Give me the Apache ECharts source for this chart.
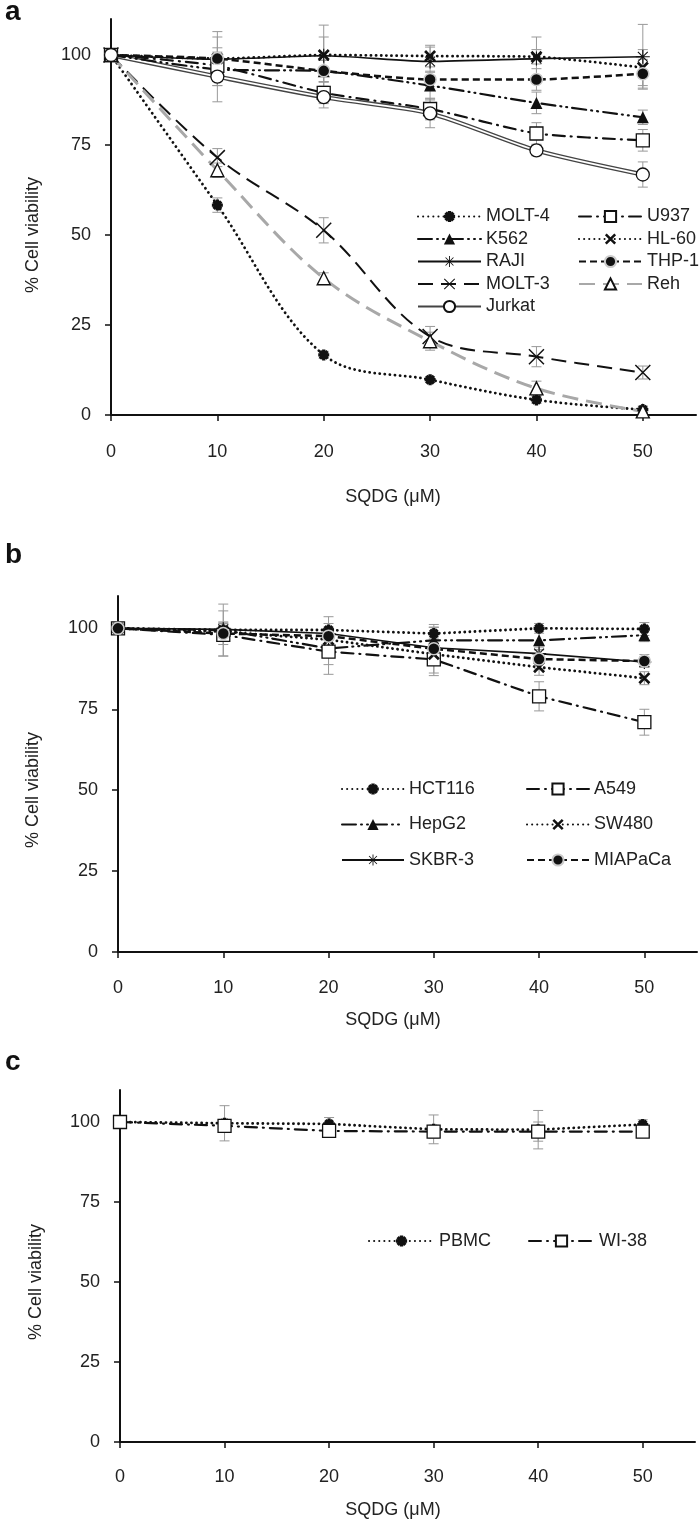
<!DOCTYPE html>
<html><head><meta charset="utf-8">
<script src="https://cdn.jsdelivr.net/npm/echarts@6/dist/echarts.min.js"></script>
<style>html,body{margin:0;padding:0;background:#fff}#c{width:700px;height:1521px}</style>
</head><body><div id="c"></div>
<script>
// ---------- data ----------
const doses = [0, 10, 20, 30, 40, 50];
const xTicks = [0, 10, 20, 30, 40, 50];
const yTicks = [0, 25, 50, 75, 100];

// panel a
const molt4 = [100, 58.3, 16.7, 9.8, 4.2, 1.5];
const molt4Err = [0, 2, 1, 0.8, 1, 1];
const k562 = [100, 96, 95.5, 91.5, 86.7, 82.7];
const k562Err = [0, 9, 3, 4, 3, 2];
const raji = [100, 98.8, 99.8, 98.2, 99, 99.5];
const rajiErr = [0, 2, 8.5, 4, 6, 9];
const molt3 = [100, 71.5, 51.3, 21.8, 16.2, 11.8];
const molt3Err = [0, 2.5, 3.5, 2.8, 2.8, 1.8];
const jurkat = [100, 94, 88.3, 83.8, 73.5, 66.8];
const jurkatErr = [0, 2.5, 3, 4, 1.5, 3.5];
const u937 = [100, 97, 89.5, 85, 78.2, 76.3];
const u937Err = [0, 3, 3, 3, 3, 3];
const hl60 = [100, 99, 100, 99.7, 99.5, 96.5];
const hl60Err = [0, 7.5, 5, 3, 2, 5];
const thp1 = [100, 99, 95.6, 93.2, 93.2, 94.8];
const thp1Err = [0, 3, 3, 2, 3, 4];
const reh = [100, 68, 38, 20.5, 7.4, 1];
const rehErr = [0, 2, 1.5, 2.5, 2, 1];

// panel b
const hct116 = [100, 99.5, 99.5, 98.4, 100, 99.8];
const hct116Err = [0, 2, 2, 2, 1.5, 2];
const a549 = [100, 98, 92.8, 90.4, 79, 71];
const a549Err = [0, 3, 7, 5, 4.5, 4];
const hepg2 = [100, 99.5, 93.8, 96.3, 96.3, 97.9];
const hepg2Err = [0, 8, 5, 4, 3, 2];
const sw480 = [100, 99, 96.5, 92, 88, 84.6];
const sw480Err = [0, 3, 3, 3, 2.5, 2];
const skbr3 = [100, 99.7, 98.4, 94, 92.2, 89.6];
const skbr3Err = [0, 2, 2, 3, 2, 1.5];
const miapaca = [100, 98.4, 97.6, 93.7, 90.5, 89.9];
const miapacaErr = [0, 7, 6, 7.5, 3, 2];

// panel c
const pbmc = [100, 99.6, 99.4, 97.7, 97.6, 99.2];
const pbmcErr = [0, 5.5, 2, 4.5, 6, 1.5];
const wi38 = [100, 98.8, 97.2, 97, 97, 97];
const wi38Err = [0, 2, 1.5, 2, 3, 1];

// ---------- styles ----------
const FONT = '"Liberation Sans", Arial, Helvetica, sans-serif';
const TXT = '#222';
const STAR_BOLD = 'path://M7,0H13V20H7Z M0,7H20V13H0Z M1,5.2L5.2,1L19,14.8L14.8,19Z M14.8,1L19,5.2L5.2,19L1,14.8Z';
const STAR_THIN = 'path://M9.2,0H10.8V20H9.2Z M0,9.2H20V10.8H0Z M2.4,3.5L3.5,2.4L17.6,16.5L16.5,17.6Z M16.5,2.4L17.6,3.5L3.5,17.6L2.4,16.5Z';
const X_BOLD = 'path://M0,3.2L3.2,0L20,16.8L16.8,20Z M16.8,0L20,3.2L3.2,20L0,16.8Z';
const X_THIN = 'path://M0,1.3L1.3,0L20,18.7L18.7,20Z M18.7,0L20,1.3L1.3,20L0,18.7Z';

const DOT = [0.1, 5];
const sty = {
  dotStar:  {line:{type:DOT, width:2.8, cap:'round', color:'#111'}, sym:STAR_BOLD, size:11, item:{color:'#111'}},
  k562:     {line:{type:[14,5,1,5,1,5], width:2.2, cap:'round', color:'#111'}, sym:'triangle', size:12, item:{color:'#111'}},
  solid:    {line:{type:'solid', width:1.6, color:'#111'}, sym:STAR_THIN, size:14, item:{color:'#111'}},
  molt3:    {line:{type:[15,8], width:2, color:'#111'}, sym:X_THIN, size:16, item:{color:'#111'}},
  u937:     {line:{type:[12,6,1,6], width:2.2, cap:'round', color:'#111'}, sym:'rect', size:13, item:{color:'#fff', borderColor:'#111', borderWidth:1.3}},
  dotX:     {line:{type:DOT, width:2.8, cap:'round', color:'#111'}, sym:X_BOLD, size:12, item:{color:'#111'}},
  dashed:   {line:{type:[7,4], width:2.5, color:'#111'}, sym:'circle', size:12, item:{color:'#111', borderColor:'#ccc', borderWidth:1.5}},
  reh:      {line:{type:[16,8], width:3, color:'#a8a8a8'}, sym:'triangle', size:13, item:{color:'#fff', borderColor:'#111', borderWidth:1.4}},
};

const grids = [
  {left:111, top:19, width:585, height:396},
  {left:118, top:596, width:579, height:356},
  {left:120, top:1090, width:575, height:352},
];

function pts(vals){ return doses.map((x,i)=>[x, vals[i]]); }
function errPts(vals, err){ return doses.map((x,i)=>[x, vals[i]-err[i], vals[i]+err[i]]).filter((d,i)=>err[i]>0); }

const series = [];
function addLine(name, vals, err, s, gi, smooth){
  series.push({
    type:'line', name, xAxisIndex:gi, yAxisIndex:gi, data:pts(vals), smooth:smooth||false,
    symbol:s.sym, symbolSize:s.size, showAllSymbol:true, lineStyle:s.line, itemStyle:s.item,
    z:3, animation:false, emphasis:{disabled:true}
  });
  addErr(vals, err, gi);
}
function addErr(vals, err, gi){
  series.push({
    type:'custom', xAxisIndex:gi, yAxisIndex:gi, data:errPts(vals, err), z:1, animation:false, silent:true,
    encode:{x:0, y:[1,2]},
    renderItem:function(params, api){
      const x = api.value(0), lo = api.value(1), hi = api.value(2);
      const a = api.coord([x, lo]), b = api.coord([x, hi]);
      const w = 5, st = {stroke:'#999', lineWidth:1};
      return {type:'group', children:[
        {type:'line', shape:{x1:a[0], y1:a[1], x2:b[0], y2:b[1]}, style:st},
        {type:'line', shape:{x1:a[0]-w, y1:a[1], x2:a[0]+w, y2:a[1]}, style:st},
        {type:'line', shape:{x1:b[0]-w, y1:b[1], x2:b[0]+w, y2:b[1]}, style:st}
      ]};
    }
  });
}

// panel a
addLine('MOLT-4', molt4, molt4Err, sty.dotStar, 0, 0.35);
addLine('K562', k562, k562Err, sty.k562, 0, 0.2);
addLine('RAJI', raji, rajiErr, sty.solid, 0, 0.2);
addLine('MOLT-3', molt3, molt3Err, sty.molt3, 0, 0.35);
// Jurkat: double line
series.push({type:'line', name:'Jurkat', xAxisIndex:0, yAxisIndex:0, data:pts(jurkat), smooth:0.25,
  symbol:'circle', showSymbol:false, lineStyle:{color:'#444', width:4.5},
  itemStyle:{color:'#fff', borderColor:'#111', borderWidth:1.3}, z:2, animation:false});
series.push({type:'line', name:'Jurkat-inner', xAxisIndex:0, yAxisIndex:0, data:pts(jurkat), smooth:0.25,
  symbol:'none', lineStyle:{color:'#fff', width:1.8}, z:2.5, animation:false, silent:true});
series.push({type:'line', name:'Jurkat-pts', xAxisIndex:0, yAxisIndex:0, data:pts(jurkat),
  symbol:'circle', symbolSize:13, lineStyle:{width:0, opacity:0},
  itemStyle:{color:'#fff', borderColor:'#111', borderWidth:1.3}, z:4, animation:false});
addErr(jurkat, jurkatErr, 0);
addLine('U937', u937, u937Err, sty.u937, 0, 0.2);
addLine('HL-60', hl60, hl60Err, sty.dotX, 0, 0.2);
addLine('THP-1', thp1, thp1Err, sty.dashed, 0, 0.2);
addLine('Reh', reh, rehErr, sty.reh, 0, 0.35);

// panel b
addLine('HCT116', hct116, hct116Err, sty.dotStar, 1);
addLine('HepG2', hepg2, hepg2Err, sty.k562, 1);
addLine('SKBR-3', skbr3, skbr3Err, sty.solid, 1);
addLine('A549', a549, a549Err, sty.u937, 1);
addLine('SW480', sw480, sw480Err, sty.dotX, 1);
addLine('MIAPaCa', miapaca, miapacaErr, sty.dashed, 1);

// panel c
addLine('PBMC', pbmc, pbmcErr, sty.dotStar, 2);
addLine('WI-38', wi38, wi38Err, sty.u937, 2);

function xAx(gi, margin){
  return {type:'value', gridIndex:gi, min:0, max:55,
    axisLine:{show:true, onZero:false, lineStyle:{color:'#111', width:2}},
    axisTick:{show:true, customValues:xTicks, length:6, inside:false, lineStyle:{color:'#111', width:1.5}},
    axisLabel:{customValues:xTicks, margin:margin, fontSize:18, fontFamily:FONT, color:TXT},
    splitLine:{show:false}};
}
function yAx(gi){
  return {type:'value', gridIndex:gi, min:0, max:110,
    axisLine:{show:true, onZero:false, lineStyle:{color:'#111', width:2}},
    axisTick:{show:true, customValues:yTicks, length:6, inside:false, lineStyle:{color:'#111', width:1.5}},
    axisLabel:{customValues:yTicks, margin:20, fontSize:18, fontFamily:FONT, color:TXT},
    splitLine:{show:false}};
}

function leg(left, top, w, gap, names){
  return {orient:'vertical', left, top, itemWidth:w, itemHeight:14, itemGap:gap, padding:0,
    selectedMode:false, data:names,
    textStyle:{fontSize:18, fontFamily:FONT, color:TXT, lineHeight:14, padding:0}};
}

function txt(x, y, text, opts){
  opts = opts || {};
  return {type:'text', x, y, rotation:opts.rot||0, z:10, silent:true,
    style:{text, fill:opts.color||TXT, font:(opts.bold?'bold ':'')+(opts.size||18)+'px '+FONT,
      textAlign:opts.align||'center', textVerticalAlign:'middle', align:opts.align||'center', verticalAlign:'middle'}};
}

const option = {
  backgroundColor:'#fff',
  animation:false,
  grid:grids.map(g=>Object.assign({outerBoundsMode:'none', containLabel:false}, g)),
  xAxis:[xAx(0,28), xAx(1,27), xAx(2,26)],
  yAxis:[yAx(0), yAx(1), yAx(2)],
  legend:[
    leg(417, 207.5, 63, 4.5, ['MOLT-4','K562','RAJI','MOLT-3','Jurkat']),
    leg(578, 207.5, 63, 4.5, ['U937','HL-60','THP-1','Reh']),
    leg(341, 780, 62, 17.5, ['HCT116','HepG2','SKBR-3']),
    leg(526, 780, 62, 17.5, ['A549','SW480','MIAPaCa']),
    leg(368, 1232, 65, 10, ['PBMC']),
    leg(528, 1232, 65, 10, ['WI-38'])
  ],
  graphic:[
    txt(5, 12, 'a', {bold:true, size:28, align:'left', color:'#111'}),
    txt(5, 555, 'b', {bold:true, size:28, align:'left', color:'#111'}),
    txt(5, 1062, 'c', {bold:true, size:28, align:'left', color:'#111'}),
    txt(33, 235, '% Cell viability', {rot:Math.PI/2}),
    txt(33, 790, '% Cell viability', {rot:Math.PI/2}),
    txt(36, 1282, '% Cell viability', {rot:Math.PI/2}),
    txt(393, 497, 'SQDG (μM)'),
    txt(393, 1020, 'SQDG (μM)'),
    txt(393, 1510, 'SQDG (μM)')
  ],
  series
};
const chart = echarts.init(document.getElementById('c'), null, {renderer:'canvas'});
chart.setOption(option);
</script></body></html>
